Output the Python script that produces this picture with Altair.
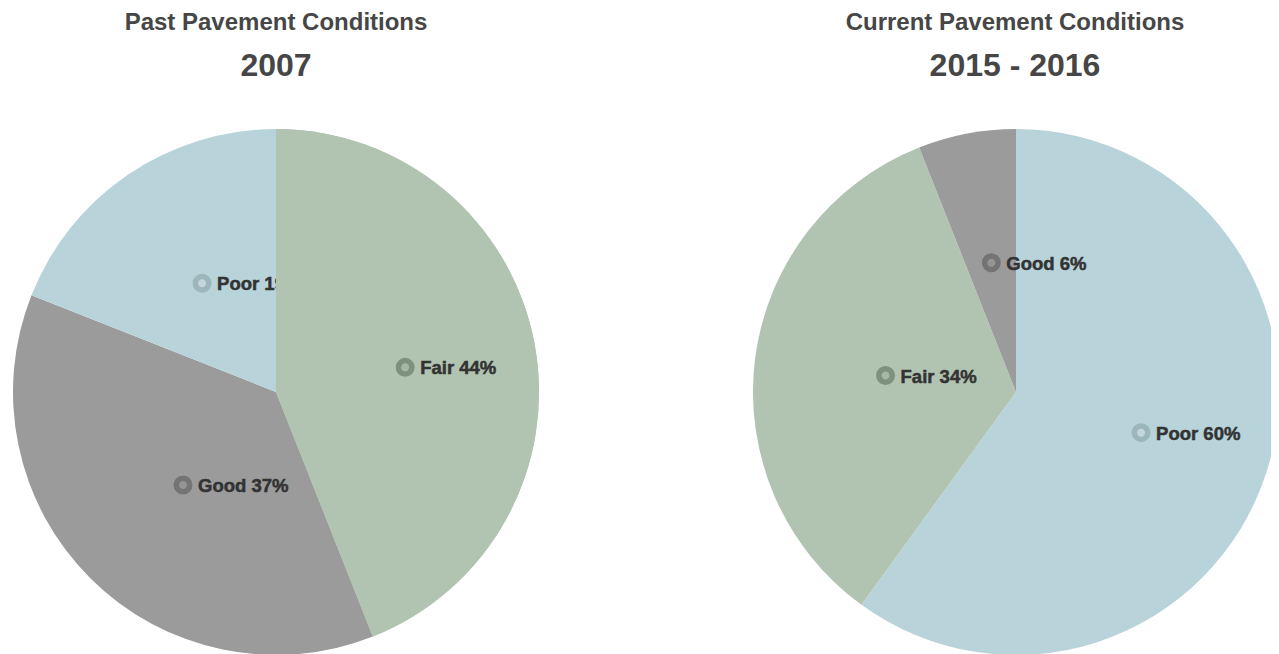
import altair as alt
import pandas as pd

# ---- data ----
past_cats = ["Fair", "Good", "Poor"]
past_vals = [44, 37, 19]
curr_cats = ["Poor", "Fair", "Good"]
curr_vals = [60, 34, 6]

# ---- styles ----
slice_colors = {"Fair": "#b1c4b1", "Good": "#9b9b9b", "Poor": "#b8d4da"}
ring_colors = {"Fair": "#7e907e", "Good": "#747474", "Poor": "#9db6bc"}
dot_colors = {"Fair": "#a6b7a6", "Good": "#949494", "Poor": "#c3d7dc"}

R = 263
H = 526
FONT = "Liberation Sans"

slice_scale = alt.Scale(domain=list(slice_colors), range=list(slice_colors.values()))
ring_scale = alt.Scale(domain=list(ring_colors), range=list(ring_colors.values()))
dot_scale = alt.Scale(domain=list(dot_colors), range=list(dot_colors.values()))
theta_scale = alt.Scale(domain=[0, 100])
ys = alt.Scale(domain=[-H / 2, H / 2])


def pie(cats, vals, title, subtitle, width, under=None, cover=None, title_dx=0):
    df = pd.DataFrame({"cat": cats, "val": vals, "idx": list(range(len(cats)))})
    xs = alt.Scale(domain=[-R, width - R])

    def arc_layer(data_chart):
        return data_chart.mark_arc(outerRadius=R, clip=True).encode(
            x=alt.XDatum(0, scale=xs, axis=None),
            y=alt.YDatum(0, scale=ys, axis=None),
            theta=alt.Theta("val:Q", stack=True, scale=theta_scale),
            color=alt.Color("cat:N", scale=slice_scale, legend=None),
            order=alt.Order("idx:Q"),
        )

    pos = (
        alt.Chart(df)
        .transform_window(cum="sum(val)", sort=[alt.SortField("idx")], frame=[None, 0])
        .transform_calculate(
            mid="(datum.cum - datum.val / 2) / 100 * 2 * PI",
            px=f"sin(datum.mid) * {R / 2}",
            py=f"cos(datum.mid) * {R / 2}",
            label="datum.cat + ' ' + datum.val + '%'",
        )
    )

    def marker_layers(flt):
        p = pos.transform_filter(flt)
        rings = p.mark_point(shape="circle", filled=True, size=182, strokeWidth=5.5, opacity=1).encode(
            x=alt.X("px:Q", scale=xs, axis=None),
            y=alt.Y("py:Q", scale=ys, axis=None),
            fill=alt.Fill("cat:N", scale=dot_scale, legend=None),
            stroke=alt.Stroke("cat:N", scale=ring_scale, legend=None),
        )
        labels = p.mark_text(
            align="left", baseline="middle", dx=15, dy=1, fontSize=18.5,
            fontWeight="bold", font=FONT, color="#333333",
            stroke="#333333", strokeWidth=0.5,
        ).encode(
            x=alt.X("px:Q", scale=xs, axis=None),
            y=alt.Y("py:Q", scale=ys, axis=None),
            text="label:N",
        )
        return [rings, labels]

    layers = [arc_layer(alt.Chart(df))]
    if cover is not None:
        layers += marker_layers(f"datum.cat == '{under}'")
        layers.append(arc_layer(alt.Chart(df).transform_filter(f"datum.cat == '{cover}'")))
        layers += marker_layers(f"datum.cat != '{under}'")
    else:
        layers += marker_layers("true")

    return alt.layer(*layers).resolve_scale(
        color="independent", fill="independent", stroke="independent"
    ).properties(
        width=width,
        height=H,
        title=alt.Title(
            text=title,
            subtitle=subtitle,
            anchor="middle",
            dx=title_dx,
            font=FONT,
            fontSize=24,
            fontWeight="bold",
            color="#464646",
            subtitleFont=FONT,
            subtitleFontSize=32,
            subtitleFontWeight="bold",
            subtitleColor="#464646",
            subtitlePadding=16,
            offset=47,
        ),
    )


left = pie(past_cats, past_vals, "Past Pavement Conditions", "2007", 526,
           under="Poor", cover="Fair", title_dx=0)
right = pie(curr_cats, curr_vals, "Current Pavement Conditions", "2015 - 2016", 518,
            title_dx=3)

chart = (
    alt.hconcat(left, right, spacing=214)
    .properties(padding={"left": 5, "top": 3, "right": 0, "bottom": 0})
    .configure_view(stroke=None)
)

chart.save("out.html", embed_options={"renderer": "svg", "actions": False})
